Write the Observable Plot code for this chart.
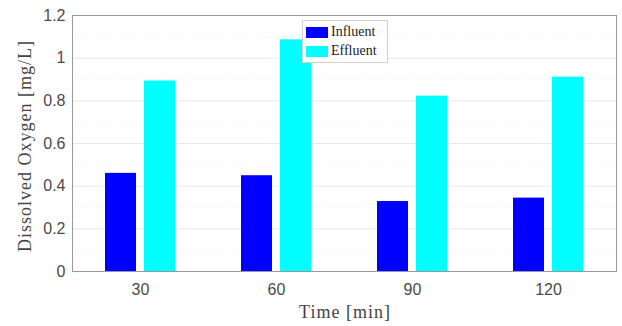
<!DOCTYPE html>
<html>
<head>
<meta charset="utf-8">
<script src="https://cdn.jsdelivr.net/npm/d3@7"></script>
<script src="https://cdn.jsdelivr.net/npm/@observablehq/plot@0.6"></script>
<style>
  body { margin: 0; background: #fff; }
  #wrap { position: relative; width: 622px; height: 326px; }
  .lab { position: absolute; font-family: "Liberation Serif", "DejaVu Serif", serif; color: #444; font-size: 18px; letter-spacing: 1px; white-space: nowrap; }
  #legend { position: absolute; left: 302px; top: 20px; width: 84px; height: 41px; border: 1px solid #d0d0d0; background: #fff; font-family: "Liberation Serif", serif; font-size: 14px; color: #222; }
  .row { position: absolute; left: 3px; display: flex; align-items: center; }
  .sw { width: 22px; height: 11px; margin-right: 3px; }
</style>
</head>
<body>
<div id="wrap"></div>
<script>
const times = [30, 60, 90, 120];
const series = ["Influent", "Effluent"];
const influent = [0.46, 0.449, 0.328, 0.344];
const effluent = [0.893, 1.086, 0.822, 0.911];
const colors = ["#0000ff", "#00ffff"];
const yTicks = [0, 0.2, 0.4, 0.6, 0.8, 1, 1.2];
const yMinor = [0.1, 0.3, 0.5, 0.7, 0.9, 1.1];

const data = [];
times.forEach((t, i) => {
  data.push({time: t, series: "Influent", value: influent[i]});
  data.push({time: t, series: "Effluent", value: effluent[i]});
});

const chart = Plot.plot({
  width: 622, height: 326,
  marginLeft: 72, marginRight: 6, marginTop: 15, marginBottom: 55,
  style: {fontFamily: "'Liberation Sans', Arial, sans-serif", fontSize: "16px", color: "#4a4a4a", background: "#fff"},
  fx: {domain: times, padding: 0, label: null, tickSize: 0, tickPadding: 12},
  x: {domain: series, paddingInner: 0.2, paddingOuter: 0.8, axis: null},
  y: {domain: [0, 1.2], ticks: yTicks, label: null, tickSize: 0, tickPadding: 7, tickFormat: d => String(d)},
  color: {domain: series, range: colors},
  marks: [
    Plot.ruleY(yMinor, {stroke: "#eeeeee", strokeDasharray: "1,2"}),
    Plot.ruleY(yTicks, {stroke: "#e6e6e6"}),
    Plot.barY(data, {fx: "time", x: "series", y: "value", fill: "series"}),
    Plot.frame({facet: "super", stroke: "#999"})
  ]
});
const wrap = document.getElementById("wrap");
wrap.appendChild(chart);

const ylab = document.createElement("div");
ylab.className = "lab";
ylab.textContent = "Dissolved Oxygen [mg/L]";
ylab.style.left = "25px"; ylab.style.top = "146px";
ylab.style.transform = "translate(-50%, -50%) rotate(-90deg)";
wrap.appendChild(ylab);

const xlab = document.createElement("div");
xlab.className = "lab";
xlab.textContent = "Time [min]";
xlab.style.left = "345px"; xlab.style.top = "312px";
xlab.style.transform = "translate(-50%, -50%)";
wrap.appendChild(xlab);

const leg = document.createElement("div");
leg.id = "legend";
series.forEach((s, i) => {
  const r = document.createElement("div");
  r.className = "row";
  r.style.top = (3 + i * 19) + "px";
  const sw = document.createElement("div");
  sw.className = "sw"; sw.style.background = colors[i];
  const tx = document.createElement("span");
  tx.textContent = s;
  r.appendChild(sw); r.appendChild(tx);
  leg.appendChild(r);
});
wrap.appendChild(leg);
</script>
</body>
</html>
